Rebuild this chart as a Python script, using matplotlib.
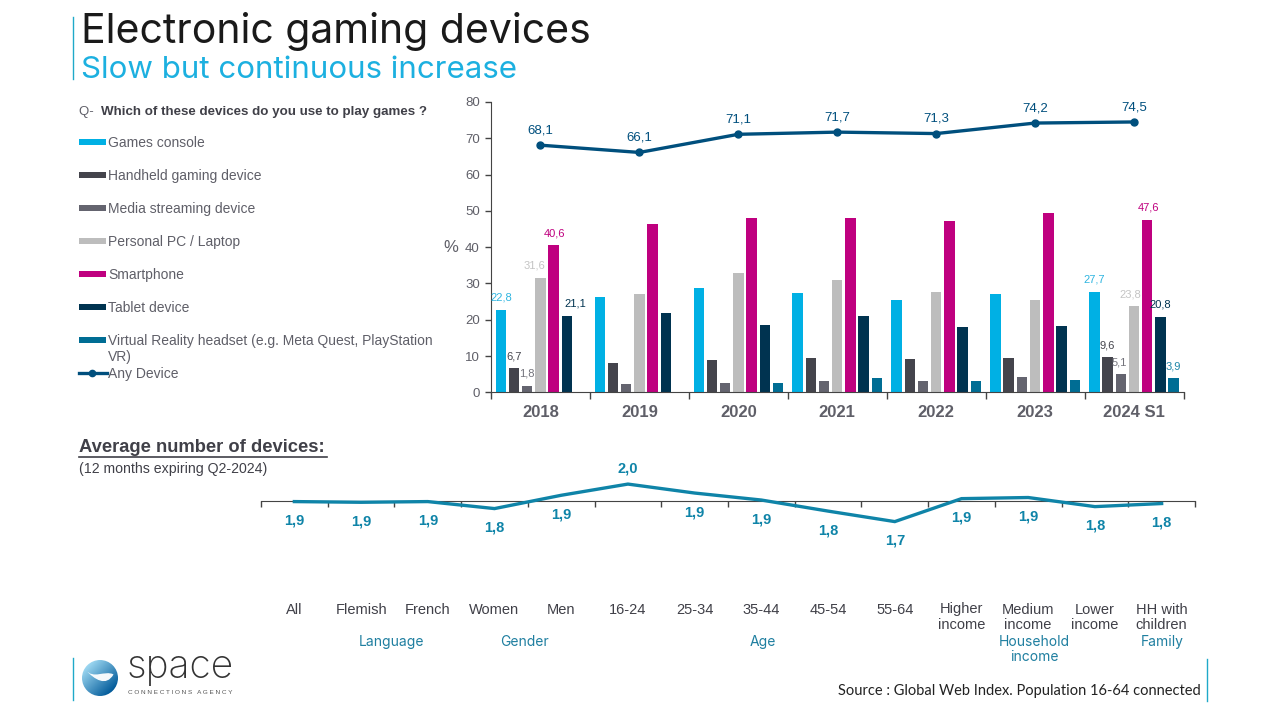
import numpy as np
import matplotlib
matplotlib.use("Agg")
import matplotlib.pyplot as plt
from matplotlib.patches import Rectangle, Circle, PathPatch
from matplotlib.path import Path

# ---------- data ----------
years = ["2018", "2019", "2020", "2021", "2022", "2023", "2024 S1"]
series_names = ["Games console", "Handheld gaming device", "Media streaming device",
                "Personal PC / Laptop", "Smartphone", "Tablet device",
                "Virtual Reality headset (e.g. Meta Quest, PlayStation\nVR)"]
games_console = [22.8, 26.2, 28.8, 27.4, 25.4, 27.0, 27.7]
handheld = [6.7, 8.1, 8.9, 9.4, 9.2, 9.5, 9.6]
media_streaming = [1.8, 2.3, 2.6, 3.1, 3.1, 4.2, 5.1]
personal_pc = [31.6, 27.1, 32.9, 30.9, 27.7, 25.4, 23.8]
smartphone = [40.6, 46.4, 48.1, 48.1, 47.3, 49.5, 47.6]
tablet = [21.1, 21.9, 18.6, 21.1, 18.0, 18.3, 20.8]
vr_headset = [0, 0, 2.6, 3.9, 3.1, 3.4, 3.9]
any_device = [68.1, 66.1, 71.1, 71.7, 71.3, 74.2, 74.5]
any_labels = ["68,1", "66,1", "71,1", "71,7", "71,3", "74,2", "74,5"]

segments = ["All", "Flemish", "French", "Women", "Men", "16-24", "25-34", "35-44",
            "45-54", "55-64", "Higher\nincome", "Medium\nincome", "Lower\nincome", "HH with\nchildren"]
avg_devices = [1.855, 1.850, 1.855, 1.805, 1.900, 1.980, 1.916, 1.866,
               1.787, 1.712, 1.876, 1.884, 1.819, 1.841]
avg_labels = ["1,9", "1,9", "1,9", "1,8", "1,9", "2,0", "1,9", "1,9", "1,8", "1,7", "1,9", "1,9", "1,8", "1,8"]
# which bars carry a value label: (series index, year index, text)
bar_labels = [(0, 0, "22,8"), (1, 0, "6,7"), (2, 0, "1,8"), (3, 0, "31,6"), (4, 0, "40,6"), (5, 0, "21,1"),
              (0, 6, "27,7"), (1, 6, "9,6"), (2, 6, "5,1"), (3, 6, "23,8"), (4, 6, "47,6"), (5, 6, "20,8"), (6, 6, "3,9")]

colors = ["#00B0E4", "#44444C", "#64646F", "#BDBDBD", "#BF007F", "#003350", "#006D94"]
line_color = "#004F7D"
teal = "#0F84A8"
grey = "#5F5F68"
FONT = "Liberation Sans"
TITLE_FONT = "Inter"

W, H = 1280, 720
fig = plt.figure(figsize=(W / 100, H / 100), dpi=100)
plt.rcParams["font.family"] = [FONT, "DejaVu Sans"]

def px_axes(x0, y0, x1, y1, **kw):
    return fig.add_axes([x0 / W, 1 - y1 / H, (x1 - x0) / W, (y1 - y0) / H], **kw)

# overlay in pixel coordinates
ov = fig.add_axes([0, 0, 1, 1], zorder=5)
ov.set_xlim(0, W); ov.set_ylim(H, 0); ov.axis("off")

# ---------- titles ----------
ov.plot([73, 73], [17, 79], color="#1FA9C9", lw=1)
ov.text(81, 31.5, "Electronic gaming devices", fontsize=29.5, family=TITLE_FONT, fontweight="normal",
        color="#1a1a1a", va="center")
ov.text(81, 70, "Slow but continuous increase", fontsize=22.5, family=TITLE_FONT, fontweight="normal",
        color="#1CB0E0", va="center")

# ---------- bar chart ----------
ax = px_axes(491, 102, 1183.5, 392.3)
n = len(series_names)
x = np.arange(len(years))
step = 0.1335
bw = 0.105
all_series = [games_console, handheld, media_streaming, personal_pc, smartphone, tablet, vr_headset]
for i, vals in enumerate(all_series):
    ax.bar(x + (i - 3) * step, vals, bw, color=colors[i], zorder=2)
ax.plot(x, any_device, color=line_color, lw=2.4, marker="o", ms=5, zorder=3)
for xi, v, t in zip(x, any_device, any_labels):
    ax.text(xi, v + 2.4, t, ha="center", va="bottom", fontsize=9.5, color=line_color)
label_colors = ["#2FB5E0", "#44444C", "#74747C", "#C4C4C4", "#BF007F", "#003350", "#1E86A8"]
nudge = {(3, 0): (-0.06, 0), (5, 0): (0.09, 0), (4, 0): (0.01, 0),
         (2, 6): (-0.02, -0.3), (3, 6): (-0.04, 0), (4, 6): (0.01, 0)}
for s, y, t in bar_labels:
    dx, dy = nudge.get((s, y), (0, 0))
    ax.text(y + (s - 3) * step + dx, all_series[s][y] + 1.9 + dy, t, ha="center", va="bottom",
            fontsize=8, color=label_colors[s])
ax.set_xlim(-0.5, len(years) - 0.5)
ax.set_ylim(0, 80)
ax.set_yticks(range(0, 81, 10))
ax.set_xticks(np.arange(-0.5, len(years)), minor=False)
ax.set_xticklabels([])
ax.set_xticks(x, minor=True)
ax.set_xticklabels(years, minor=True, fontsize=12, fontweight="bold", color=grey)
ax.tick_params(axis="x", which="major", length=5, width=1, color="#444444")
ax.tick_params(axis="x", which="minor", length=0, pad=9)
ax.tick_params(axis="y", length=4, width=1, color="#444444", labelsize=9.5, labelcolor=grey, pad=4)
for s in ("top", "right"):
    ax.spines[s].set_visible(False)
for s in ("left", "bottom"):
    ax.spines[s].set_color("#444444")
ax.patch.set_alpha(0)
ov.text(451, 248, "%", fontsize=12, color=grey, ha="center", va="center")

# ---------- legend ----------
ov.text(79, 111.5, "Q- ", fontsize=9.5, color=grey, va="center")
ov.text(101, 111.5, "Which of these devices do you use to play games ?", fontsize=9.6, color="#404048",
        va="center", fontweight="bold")
leg_y = [142, 175, 208, 241, 274, 307]
for yy, c, name in zip(leg_y, colors, series_names):
    ov.add_patch(Rectangle((79, yy - 3), 27, 6, color=c, lw=0))
    ov.text(108, yy + 0.8, name, fontsize=10, color=grey, va="center")
ov.add_patch(Rectangle((79, 337), 27, 6, color=colors[6], lw=0))
ov.text(108, 340.8, "Virtual Reality headset (e.g. Meta Quest, PlayStation", fontsize=10, color=grey, va="center")
ov.text(108, 356.8, "VR)", fontsize=10, color=grey, va="center")
ov.plot([79, 107], [373, 373], color=line_color, lw=2.4)
ov.plot([92], [373], marker="o", ms=4.5, color=line_color)
ov.text(108, 373.8, "Any Device", fontsize=10, color=grey, va="center")

# ---------- average devices ----------
ov.text(79, 447.5, "Average number of devices:", fontsize=13.2, fontweight="bold", color="#404048", va="center")
ov.plot([79, 327], [457, 457], color="#404048", lw=1.2)
ov.text(79, 468.5, "(12 months expiring Q2-2024)", fontsize=10.2, color="#404048", va="center")

ax2 = px_axes(261, 440, 1195, 600)
xs = np.arange(len(segments))
PX_PER_UNIT = 140
base = 1.857
ax2.set_ylim(base - (600 - 501.3) / PX_PER_UNIT, base + (501.3 - 440) / PX_PER_UNIT)
ax2.set_xlim(-0.5, len(segments) - 0.5)
ax2.plot(xs, avg_devices, color=teal, lw=2.4, zorder=3, solid_joinstyle="miter")
ax2.spines["bottom"].set_position(("data", base))
ax2.spines["bottom"].set_color("#444444")
for s in ("top", "right", "left"):
    ax2.spines[s].set_visible(False)
ax2.set_yticks([])
ax2.set_xticks(np.arange(-0.5, len(segments)))
ax2.set_xticklabels([])
ax2.tick_params(axis="x", length=4, width=1, color="#444444")
ax2.patch.set_alpha(0)
for xi, v, t in zip(xs, avg_devices, avg_labels):
    off = 0.137 if t != "2,0" else -0.112
    ax2.text(xi, v - off, t, ha="center", va="center", fontsize=10.5, fontweight="bold", color=teal)
seg_px = 261 + 66.71 * (xs + 0.5)
for xp, t in zip(seg_px, segments):
    ov.text(xp, 602.5, t, ha="center", va="top", fontsize=10.5, color="#404048", linespacing=1.13)
groups = [("Language", 1.45, 642), ("Gender", 3.45, 642), ("Age", 7.02, 642),
          ("Household\nincome", 11.09, 649.5), ("Family", 13.01, 642)]
for t, pos, yy in groups:
    ov.text(261 + 66.71 * (pos + 0.5), yy, t, ha="center", va="center", fontsize=10, family=TITLE_FONT,
            fontweight="normal", color="#1F7FA0", linespacing=1.15)

# ---------- footer ----------
ov.text(1201, 691, "Source : Global Web Index. Population 16-64 connected", ha="right", va="center",
        fontsize=10.5, family="Lato", color="#222222")
ov.plot([1207, 1207], [659, 701], color="#1FA9C9", lw=1)
ov.plot([73, 73], [658, 700], color="#1FA9C9", lw=1)

# logo
lax = px_axes(82, 660, 118, 696)
gy, gx = np.mgrid[-1:1:120j, -1:1:120j]
grad = np.clip(0.5 + 0.5 * (gx - gy) * 0.7, 0, 1)
c0 = np.array([0.62, 0.85, 0.95]); c1 = np.array([0.0, 0.35, 0.6])
img = c0 + (c1 - c0) * grad[..., None]
im = lax.imshow(img, extent=[-1, 1, -1, 1], origin="lower")
clip = Circle((0, 0), 1, transform=lax.transData)
im.set_clip_path(clip)
lax.set_xlim(-1, 1); lax.set_ylim(-1, 1); lax.axis("off")
swirl = Path([(-0.8, 0.45), (-0.35, -0.1), (0.25, 0.45), (0.75, 0.2), (0.35, -0.5), (-0.3, -0.1), (-0.8, 0.45)],
             [Path.MOVETO, Path.CURVE4, Path.CURVE4, Path.CURVE4, Path.CURVE4, Path.CURVE4, Path.CURVE4])
lax.add_patch(PathPatch(swirl, fc="white", ec="none", alpha=0.95))
ov.text(127, 668, "space", fontsize=28, family=TITLE_FONT, fontweight="light", color="#333333", va="center")
ov.text(128, 692.5, "C O N N E C T I O N S   A G E N C Y", fontsize=4.6, color="#555555", va="center")

fig.savefig("out.png", dpi=100)
